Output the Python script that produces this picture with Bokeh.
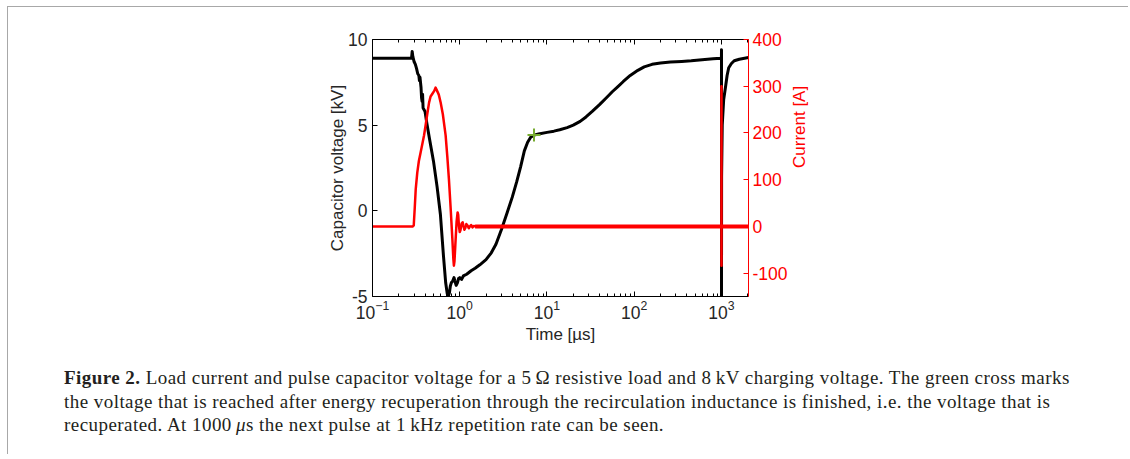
import math
from bokeh.plotting import figure
from bokeh.models import Range1d, LinearAxis, LogAxis, FixedTicker, Div
from bokeh.layouts import column
from bokeh.embed import file_html
from bokeh.resources import INLINE

# ---- data ----
# capacitor voltage [kV] vs time [us]
v_time = [0.1, 0.2, 0.28, 0.285, 0.29, 0.295, 0.30, 0.31, 0.32, 0.33, 0.34, 0.345,
          0.35, 0.36, 0.365, 0.37, 0.375, 0.38, 0.39, 0.40, 0.42, 0.45, 0.50, 0.55,
          0.60, 0.65, 0.69, 0.72, 0.735, 0.76, 0.78, 0.80, 0.83, 0.86, 0.88, 0.91,
          0.94, 0.97, 1.0, 1.05, 1.1, 1.2, 1.35, 1.5, 1.7, 2.0, 2.3, 2.6, 3.0, 3.5,
          4.0, 4.5, 5.0, 5.5, 6.0, 6.5, 7.1, 8.0, 10, 12, 14, 17, 20, 24, 28, 33,
          40, 48, 56, 65, 75, 90, 110, 130, 160, 200, 260, 350, 450, 600, 800, 990,
          999, 1000, 1000.3, 1003, 1020, 1060, 1110, 1160, 1210, 1300, 1400, 1600, 2040]
v_kv = [8.9, 8.9, 8.9, 9.3, 9.0, 8.85, 8.7, 8.55, 8.3, 8.0, 7.9, 7.6,
        7.8, 7.2, 6.6, 6.4, 6.8, 6.0, 5.9, 5.8, 5.1, 4.2, 2.9, 1.4,
        -0.2, -2.6, -4.2, -4.85, -5.0, -4.8, -4.4, -4.2, -4.1, -3.9, -4.1, -4.35,
        -4.2, -3.95, -3.9, -4.0, -3.8, -3.7, -3.5, -3.35, -3.15, -2.85, -2.45, -1.95, -1.1, -0.1,
        0.8, 1.7, 2.6, 3.5, 4.0, 4.3, 4.42, 4.48, 4.58, 4.65, 4.73, 4.86, 5.0, 5.22, 5.48, 5.8,
        6.2, 6.6, 6.95, 7.25, 7.55, 7.9, 8.2, 8.4, 8.55, 8.63, 8.68, 8.72, 8.76, 8.82, 8.87, 8.9,
        9.0, 9.4, -5.5, 2.0, 5.0, 6.5, 7.2, 7.9, 8.35, 8.6, 8.76, 8.85, 8.95]

# load current [A] vs time [us]
i_time = [0.1, 0.29, 0.297, 0.305, 0.313, 0.326, 0.34, 0.356, 0.371, 0.39, 0.405,
          0.424, 0.445, 0.463, 0.49, 0.51, 0.528, 0.55, 0.575, 0.604, 0.64, 0.689,
          0.72, 0.752, 0.786, 0.822, 0.845, 0.857, 0.87, 0.89, 0.92, 0.945, 0.96,
          0.98, 1.0, 1.02, 1.05, 1.08, 1.1, 1.13, 1.16, 1.19, 1.23, 1.27, 1.31,
          1.35, 1.4, 1.45, 1.55, 999, 1000, 1000.2, 1000.4, 2040]
i_amp = [0, 0, 2, 40, 80, 115, 140, 158, 175, 195, 215,
         240, 265, 278, 285, 290, 297, 290, 282, 265, 240, 195,
         150, 100, 40, -25, -70, -84, -75, -40, 10, 30, 25,
         0, -12, -8, 6, 9, 2, -7, -3, 5, 2, -4, 0,
         3, -2, 1, 0, 0, 300, -84, 0, 0]

# noisy zero-current tail (drawn thicker)
tail_time = [1.5, 2040]
tail_amp = [0, 0]

# green cross: recuperated voltage
cross_time = [7.1]
cross_kv = [4.42]

x_ticks = [0.1, 1, 10, 100, 1000]
v_ticks = [-5, 0, 5, 10]
v_tick_labels = ["-5", "0", "5", "10"]
i_ticks = [-100, 0, 100, 200, 300, 400]
i_tick_labels = ["-100", "0", "100", "200", "300", "400"]

x_minor = [k * 10.0 ** n for n in range(-1, 4) for k in range(2, 10)]

AX = "#262626"
RED = "#ff0000"
FONT = "Liberation Sans"

p = figure(width=1120, height=352, x_axis_type="log",
           x_range=Range1d(0.1, 2040), y_range=Range1d(-5, 10),
           output_backend="svg", toolbar_location=None,
           min_border_left=364, min_border_right=380,
           min_border_top=32, min_border_bottom=63)
p.outline_line_color = None
p.grid.visible = False
p.background_fill_color = "white"
p.border_fill_color = "white"

p.extra_y_ranges = {"cur": Range1d(-150, 400)}


def style_axis(ax, color):
    ax.axis_line_color = color
    ax.axis_line_width = 1
    ax.major_tick_line_color = color
    ax.minor_tick_line_color = color
    ax.major_tick_in = 5
    ax.major_tick_out = 0
    ax.minor_tick_in = 3
    ax.minor_tick_out = 0
    ax.major_label_text_color = color
    ax.major_label_text_font = FONT
    ax.major_label_text_font_size = "17.5px"
    ax.axis_label_text_color = color
    ax.axis_label_text_font = FONT
    ax.axis_label_text_font_size = "17px"
    ax.axis_label_text_font_style = "normal"


xa = p.xaxis[0]
xa.ticker = FixedTicker(ticks=x_ticks, minor_ticks=x_minor)
xa.axis_label = "Time [\u00b5s]"
style_axis(xa, AX)
xa.axis_line_color = "black"
xa.major_tick_line_color = "black"
xa.minor_tick_line_color = "black"
xa.major_label_standoff = 3
xa.axis_label_standoff = 3

top = LogAxis(ticker=FixedTicker(ticks=x_ticks, minor_ticks=x_minor))
style_axis(top, "black")
top.major_label_text_alpha = 0
top.major_label_text_font_size = "8px"
top.major_label_standoff = 0
p.add_layout(top, "above")

ya = p.yaxis[0]
ya.ticker = FixedTicker(ticks=v_ticks, minor_ticks=[])
ya.major_label_overrides = dict(zip(v_ticks, v_tick_labels))
ya.axis_label = "Capacitor voltage [kV]"
style_axis(ya, AX)
ya.axis_line_color = "black"
ya.major_tick_line_color = "black"
ya.major_label_standoff = 5
ya.axis_label_standoff = -2

ra = LinearAxis(y_range_name="cur", ticker=FixedTicker(ticks=i_ticks, minor_ticks=[]),
                axis_label="Current [A]")
ra.major_label_overrides = dict(zip(i_ticks, i_tick_labels))
style_axis(ra, RED)
ra.major_label_standoff = 4
ra.axis_label_standoff = 9
ra.axis_label_orientation = math.pi / 2
p.add_layout(ra, "right")

# ---- glyphs ----
p.line(v_time, v_kv, line_color="black", line_width=3, line_join="round")
p.line(i_time, i_amp, line_color=RED, line_width=2.5, line_join="round", y_range_name="cur")
p.line(tail_time, tail_amp, line_color=RED, line_width=4, y_range_name="cur")
p.scatter(cross_time, cross_kv, marker="cross", size=13, line_color="#77ac30", line_width=2)

caption = Div(
    text=('<div style="font-family:\'Liberation Serif\',serif;font-size:19px;line-height:23.5px;'
          'letter-spacing:0.45px;color:#231f20;padding:7px 0 0 56px;white-space:nowrap;">'
          '<b>Figure 2.</b> Load current and pulse capacitor voltage for a 5\u2009\u03a9 resistive load '
          'and 8\u2009kV charging voltage. The green cross marks<br>'
          'the voltage that is reached after energy recuperation through the recirculation inductance '
          'is finished, i.e. the voltage that is<br>'
          'recuperated. At 1000\u2009<i>\u03bc</i>s the next pulse at 1\u2009kHz repetition rate can be seen.'
          '</div>'),
    width=1120, height=95, margin=(0, 0, 0, 0))

layout = column(p, caption,
                styles={"margin-top": "6px", "margin-left": "7px",
                        "border-top": "1px solid #a8a8a8", "border-left": "1px solid #a8a8a8"})

open("out.html", "w").write(file_html(layout, INLINE))
